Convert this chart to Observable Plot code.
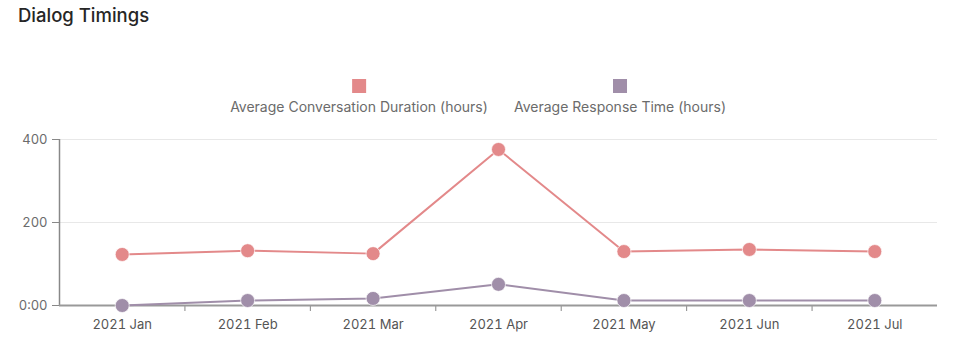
<!DOCTYPE html>
<html>
<head>
<meta charset="utf-8">
<script src="https://cdn.jsdelivr.net/npm/d3@7"></script>
<script src="https://cdn.jsdelivr.net/npm/@observablehq/plot@0.6"></script>
<style>
  body { margin: 0; background: #fff; font-family: Inter, "Noto Sans", sans-serif; }
  #wrap { position: relative; width: 960px; height: 356px; overflow: hidden; }
  #title { position: absolute; left: 18px; top: 4px; font-size: 18.5px; font-weight: 500; color: #262626; }
  .leg { position: absolute; top: 79px; transform: translateX(-50%); display: flex; flex-direction: column; align-items: center; font-size: 14px; color: #6b6b6b; white-space: nowrap; }
  .sw { width: 14px; height: 14px; margin-bottom: 5px; }
  #chart { position: absolute; left: 0; top: 120px; }
</style>
</head>
<body>
<div id="wrap">
  <div id="title">Dialog Timings</div>
  <div id="legend"></div>
  <div id="chart"></div>
</div>
<script>
const months = ["2021 Jan", "2021 Feb", "2021 Mar", "2021 Apr", "2021 May", "2021 Jun", "2021 Jul"];
const conversationDuration = [123, 132, 125, 376, 130, 135, 130];
const responseTime = [0, 12, 17, 51, 12, 12, 12];
const seriesNames = ["Average Conversation Duration (hours)", "Average Response Time (hours)"];
const seriesColors = ["#e3898a", "#a08ea9"];
const yTicks = [0, 200, 400];

const seriesValues = [conversationDuration, responseTime];
const data = seriesNames.flatMap((name, k) => seriesValues[k].map((v, i) => ({i, v, s: name})));

// legend
const legendCenters = [359, 620];
const legend = document.getElementById("legend");
seriesNames.forEach((name, k) => {
  const item = document.createElement("div");
  item.className = "leg";
  item.style.left = legendCenters[k] + "px";
  const sw = document.createElement("div");
  sw.className = "sw";
  sw.style.background = seriesColors[k];
  const lab = document.createElement("div");
  lab.textContent = name;
  item.appendChild(sw);
  item.appendChild(lab);
  legend.appendChild(item);
});

const boundaries = d3.range(1, months.length).map(i => i - 0.5);

const chart = Plot.plot({
  width: 960,
  height: 236,
  marginLeft: 59,
  marginRight: 23,
  marginTop: 19,
  marginBottom: 51,
  x: {domain: [-0.5, months.length - 0.5], axis: null},
  y: {domain: [0, 400], axis: null},
  color: {domain: seriesNames, range: seriesColors},
  style: {fontFamily: "Inter, 'Noto Sans', sans-serif", fontSize: "13px", background: "transparent", color: "#666"},
  marks: [
    Plot.ruleY(yTicks.filter(d => d > 0), {stroke: "#e8e8e8", strokeWidth: 1}),
    Plot.axisY({ticks: yTicks, tickSize: 7, tickPadding: 5, stroke: "#888", color: "#6b6b6b", label: null,
      tickFormat: d => d === 0 ? "0:00" : String(d)}),
    Plot.ruleX([-0.5], {y1: 0, y2: 400, stroke: "#888", strokeWidth: 1.5}),
    Plot.axisX({ticks: boundaries, tickSize: 6, stroke: "#888", label: null, tickFormat: () => ""}),
    Plot.axisX({ticks: d3.range(months.length), tickSize: 0, tickPadding: 14, color: "#555", label: null,
      tickFormat: i => months[i]}),
    Plot.ruleY([0], {stroke: "#999", strokeWidth: 2}),
    Plot.line(data, {x: "i", y: "v", z: "s", stroke: "s", strokeWidth: 2}),
    Plot.dot(data, {x: "i", y: "v", fill: "s", r: 7, stroke: "#fff", strokeWidth: 1, strokeOpacity: 0.7})
  ]
});
document.getElementById("chart").appendChild(chart);
</script>
</body>
</html>
